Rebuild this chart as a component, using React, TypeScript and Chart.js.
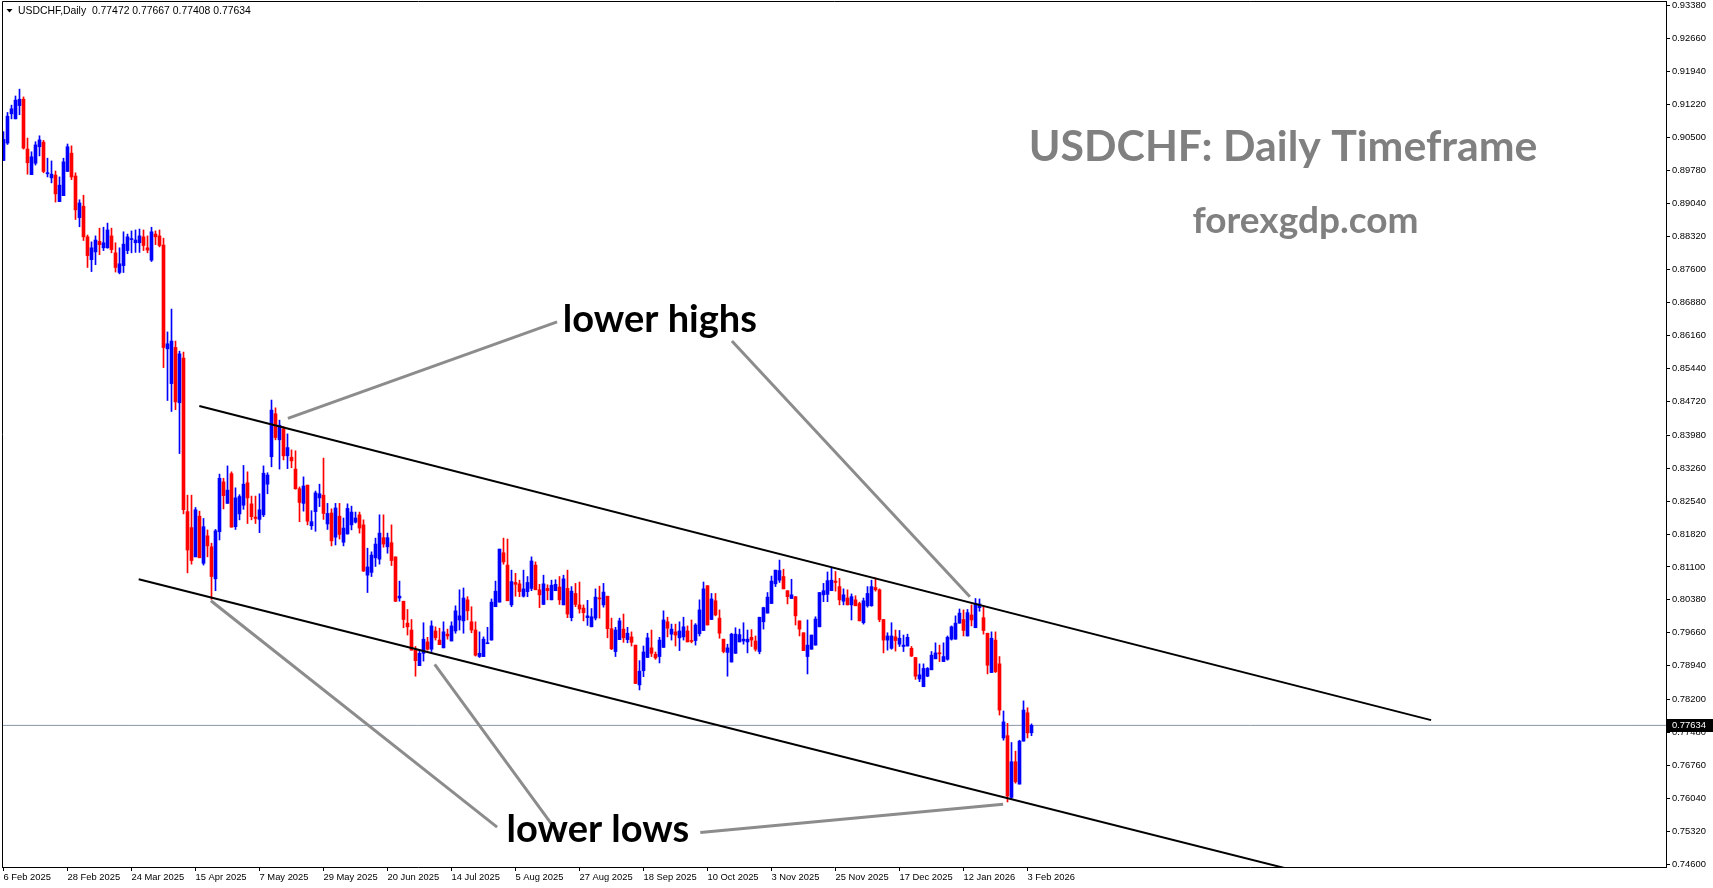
import React, { useEffect, useRef } from 'react';
import { Chart, registerables } from 'chart.js';

Chart.register(...registerables);

// ---- Data (USDCHF daily) ----
const opens = [
  0.8999, 0.9037, 0.9101, 0.9090, 0.9119, 0.9133, 0.9024, 0.8968, 0.8993, 0.9029,
  0.9039, 0.8970, 0.8961, 0.8967, 0.8909, 0.8922, 0.8975, 0.9015, 0.8965, 0.8874,
  0.8899, 0.8832, 0.8782, 0.8799, 0.8822, 0.8808, 0.8808, 0.8834, 0.8797, 0.8754,
  0.8769, 0.8802, 0.8826, 0.8819, 0.8819, 0.8832, 0.8808, 0.8781, 0.8838, 0.8834,
  0.8814, 0.8587, 0.8511, 0.8590, 0.8469, 0.8567, 0.8231, 0.8196, 0.8132, 0.8221,
  0.8118, 0.8178, 0.8154, 0.8084, 0.8187, 0.8296, 0.8249, 0.8314, 0.8198, 0.8226,
  0.8245, 0.8294, 0.8248, 0.8219, 0.8214, 0.8224, 0.8291, 0.8351, 0.8445, 0.8388,
  0.8412, 0.8353, 0.8350, 0.8324, 0.8281, 0.8249, 0.8289, 0.8200, 0.8231, 0.8261,
  0.8267, 0.8204, 0.8228, 0.8175, 0.8221, 0.8164, 0.8182, 0.8202, 0.8208, 0.8224,
  0.8202, 0.8092, 0.8098, 0.8130, 0.8127, 0.8174, 0.8154, 0.8163, 0.8132, 0.8042,
  0.8035, 0.7987, 0.7972, 0.7928, 0.7894, 0.7921, 0.7946, 0.7930, 0.7970, 0.7950,
  0.7933, 0.7963, 0.7948, 0.7970, 0.7994, 0.7992, 0.8038, 0.7990, 0.7972, 0.7914,
  0.7914, 0.7942, 0.7950, 0.8023, 0.8033, 0.8141, 0.8114, 0.8027, 0.8076, 0.8073,
  0.8046, 0.8056, 0.8063, 0.8114, 0.8060, 0.8028, 0.8063, 0.8038, 0.8058, 0.8066,
  0.8027, 0.8063, 0.7999, 0.8052, 0.8027, 0.8020, 0.7999, 0.7979, 0.7998, 0.8042,
  0.8027, 0.8046, 0.7975, 0.7925, 0.7951, 0.7974, 0.7951, 0.7957, 0.7939, 0.7852,
  0.7883, 0.7912, 0.7933, 0.7919, 0.7914, 0.7934, 0.7990, 0.7963, 0.7968, 0.7955,
  0.7957, 0.7970, 0.7949, 0.7949, 0.7964, 0.7971, 0.8069, 0.7995, 0.8036, 0.7998,
  0.7952, 0.7923, 0.7902, 0.7921, 0.7946, 0.7948, 0.7946, 0.7956, 0.7948, 0.7925,
  0.7990, 0.8009, 0.8030, 0.8073, 0.8081, 0.8089, 0.8058, 0.8041, 0.8045, 0.7992,
  0.7966, 0.7914, 0.7930, 0.7939, 0.7979, 0.8049, 0.8050, 0.8058, 0.8079, 0.8067,
  0.8035, 0.8042, 0.8027, 0.8038, 0.8030, 0.7988, 0.8025, 0.8025, 0.8065, 0.8060,
  0.7995, 0.7950, 0.7932, 0.7957, 0.7941, 0.7936, 0.7937, 0.7932, 0.7912, 0.7865,
  0.7848, 0.7871, 0.7885, 0.7909, 0.7922, 0.7903, 0.7908, 0.7952, 0.7952, 0.7987,
  0.7995, 0.7959, 0.8005, 0.7977, 0.8021, 0.7999, 0.7965, 0.7879, 0.7950, 0.7898,
  0.7736, 0.7741, 0.7606, 0.7684, 0.7635, 0.7729, 0.7791, 0.77472,
];
const highs = [
  0.9062, 0.9104, 0.9120, 0.9140, 0.9155, 0.9138, 0.9048, 0.9018, 0.9040, 0.9053,
  0.9043, 0.9004, 0.8998, 0.8976, 0.8963, 0.9004, 0.9035, 0.9031, 0.8972, 0.8913,
  0.8923, 0.8836, 0.8821, 0.8834, 0.8851, 0.8853, 0.8862, 0.8851, 0.8819, 0.8808,
  0.8843, 0.8838, 0.8845, 0.8847, 0.8849, 0.8847, 0.8834, 0.8853, 0.8845, 0.8847,
  0.8829, 0.8624, 0.8674, 0.8604, 0.8582, 0.8580, 0.8267, 0.8267, 0.8240, 0.8232,
  0.8216, 0.8191, 0.8162, 0.8192, 0.8313, 0.8304, 0.8331, 0.8318, 0.8283, 0.8268,
  0.8332, 0.8318, 0.8265, 0.8265, 0.8270, 0.8331, 0.8316, 0.8475, 0.8458, 0.8431,
  0.8417, 0.8401, 0.8366, 0.8364, 0.8285, 0.8307, 0.8289, 0.8233, 0.8276, 0.8291,
  0.8348, 0.8249, 0.8237, 0.8249, 0.8249, 0.8217, 0.8248, 0.8243, 0.8230, 0.8230,
  0.8213, 0.8151, 0.8143, 0.8173, 0.8224, 0.8224, 0.8184, 0.8202, 0.8132, 0.8079,
  0.8035, 0.8017, 0.7995, 0.7936, 0.7928, 0.7988, 0.7956, 0.7992, 0.7979, 0.7976,
  0.7990, 0.7974, 0.7990, 0.8025, 0.8060, 0.8064, 0.8045, 0.8023, 0.7990, 0.7968,
  0.7957, 0.7978, 0.8040, 0.8079, 0.8149, 0.8173, 0.8171, 0.8103, 0.8096, 0.8081,
  0.8103, 0.8089, 0.8132, 0.8121, 0.8072, 0.8092, 0.8071, 0.8081, 0.8082, 0.8089,
  0.8092, 0.8103, 0.8067, 0.8074, 0.8077, 0.8027, 0.8037, 0.8019, 0.8062, 0.8068,
  0.8074, 0.8046, 0.7998, 0.7978, 0.7998, 0.8007, 0.7978, 0.7968, 0.7939, 0.7905,
  0.7937, 0.7965, 0.7972, 0.7924, 0.7956, 0.8014, 0.8000, 0.7985, 0.7985, 0.7990,
  0.8000, 0.7981, 0.7994, 0.7986, 0.8038, 0.8077, 0.8069, 0.8052, 0.8052, 0.8016,
  0.7952, 0.7941, 0.7965, 0.7977, 0.7974, 0.7988, 0.7972, 0.7973, 0.7959, 0.8000,
  0.8022, 0.8054, 0.8090, 0.8103, 0.8125, 0.8105, 0.8058, 0.8083, 0.8045, 0.7992,
  0.7966, 0.7994, 0.7961, 0.8001, 0.8054, 0.8074, 0.8099, 0.8107, 0.8100, 0.8085,
  0.8062, 0.8060, 0.8051, 0.8047, 0.8033, 0.8042, 0.8067, 0.8081, 0.8086, 0.8062,
  0.7995, 0.7966, 0.7988, 0.7972, 0.7971, 0.7961, 0.7963, 0.7936, 0.7912, 0.7898,
  0.7898, 0.7890, 0.7925, 0.7944, 0.7939, 0.7944, 0.7959, 0.7981, 0.8003, 0.8018,
  0.8016, 0.8017, 0.8027, 0.8041, 0.8040, 0.8023, 0.7965, 0.7968, 0.7968, 0.7914,
  0.7795, 0.7768, 0.7726, 0.7707, 0.7731, 0.7817, 0.7802, 0.77667,
];
const lows = [
  0.8999, 0.9034, 0.9090, 0.9090, 0.9099, 0.9024, 0.8969, 0.8968, 0.8989, 0.9009,
  0.8972, 0.8963, 0.8950, 0.8908, 0.8909, 0.8922, 0.8975, 0.8957, 0.8870, 0.8854,
  0.8824, 0.8765, 0.8756, 0.8771, 0.8793, 0.8802, 0.8807, 0.8797, 0.8755, 0.8751,
  0.8754, 0.8795, 0.8797, 0.8798, 0.8798, 0.8802, 0.8797, 0.8778, 0.8815, 0.8810,
  0.8546, 0.8474, 0.8450, 0.8454, 0.8358, 0.8226, 0.8097, 0.8116, 0.8132, 0.8130,
  0.8114, 0.8132, 0.8039, 0.8058, 0.8169, 0.8237, 0.8249, 0.8197, 0.8192, 0.8213,
  0.8236, 0.8205, 0.8213, 0.8205, 0.8185, 0.8220, 0.8270, 0.8329, 0.8388, 0.8324,
  0.8344, 0.8325, 0.8327, 0.8280, 0.8209, 0.8232, 0.8202, 0.8192, 0.8188, 0.8242,
  0.8214, 0.8192, 0.8156, 0.8158, 0.8171, 0.8156, 0.8182, 0.8191, 0.8206, 0.8184,
  0.8100, 0.8054, 0.8089, 0.8111, 0.8116, 0.8153, 0.8140, 0.8113, 0.8034, 0.8035,
  0.7977, 0.7961, 0.7928, 0.7871, 0.7894, 0.7904, 0.7928, 0.7925, 0.7950, 0.7940,
  0.7933, 0.7952, 0.7948, 0.7965, 0.7972, 0.7965, 0.7994, 0.7966, 0.7915, 0.7912,
  0.7914, 0.7942, 0.7950, 0.8023, 0.8033, 0.8116, 0.8036, 0.8023, 0.8046, 0.8045,
  0.8044, 0.8045, 0.8058, 0.8060, 0.8021, 0.8028, 0.8038, 0.8038, 0.8058, 0.8028,
  0.8027, 0.7999, 0.7992, 0.8023, 0.8009, 0.7992, 0.7982, 0.7979, 0.7994, 0.7998,
  0.8022, 0.7955, 0.7929, 0.7914, 0.7951, 0.7945, 0.7944, 0.7937, 0.7855, 0.7841,
  0.7870, 0.7912, 0.7914, 0.7908, 0.7900, 0.7934, 0.7957, 0.7950, 0.7937, 0.7927,
  0.7950, 0.7946, 0.7944, 0.7939, 0.7959, 0.7971, 0.7983, 0.7995, 0.8003, 0.7954,
  0.7922, 0.7871, 0.7902, 0.7921, 0.7946, 0.7941, 0.7922, 0.7936, 0.7926, 0.7920,
  0.7974, 0.8009, 0.8030, 0.8067, 0.8076, 0.8062, 0.8029, 0.8041, 0.7983, 0.7959,
  0.7927, 0.7876, 0.7930, 0.7939, 0.7979, 0.8034, 0.8034, 0.8058, 0.8057, 0.8027,
  0.8027, 0.8027, 0.7994, 0.8025, 0.7992, 0.7985, 0.8022, 0.8024, 0.8057, 0.7990,
  0.7922, 0.7928, 0.7930, 0.7926, 0.7936, 0.7925, 0.7937, 0.7914, 0.7864, 0.7859,
  0.7848, 0.7870, 0.7885, 0.7909, 0.7903, 0.7903, 0.7906, 0.7950, 0.7952, 0.7987,
  0.7959, 0.7959, 0.7981, 0.7977, 0.8013, 0.7963, 0.7876, 0.7879, 0.7879, 0.7786,
  0.7731, 0.7596, 0.7602, 0.7637, 0.7635, 0.7729, 0.7736, 0.77408,
];
const closes = [
  0.9045, 0.9096, 0.9112, 0.9131, 0.9133, 0.9026, 0.8994, 0.9007, 0.9033, 0.9044,
  0.8975, 0.8972, 0.8969, 0.8926, 0.8945, 0.8996, 0.9029, 0.8963, 0.8891, 0.8906,
  0.8832, 0.8791, 0.8808, 0.8825, 0.8815, 0.8819, 0.8847, 0.8804, 0.8765, 0.8773,
  0.8816, 0.8832, 0.8827, 0.8825, 0.8834, 0.8813, 0.8803, 0.8843, 0.8832, 0.8813,
  0.8590, 0.8598, 0.8604, 0.8471, 0.8576, 0.8235, 0.8147, 0.8124, 0.8235, 0.8130,
  0.8198, 0.8156, 0.8089, 0.8189, 0.8304, 0.8266, 0.8278, 0.8197, 0.8261, 0.8264,
  0.8291, 0.8261, 0.8220, 0.8216, 0.8235, 0.8315, 0.8311, 0.8453, 0.8393, 0.8420,
  0.8353, 0.8371, 0.8342, 0.8281, 0.8251, 0.8287, 0.8210, 0.8209, 0.8272, 0.8270,
  0.8227, 0.8227, 0.8167, 0.8239, 0.8181, 0.8195, 0.8238, 0.8230, 0.8217, 0.8195,
  0.8101, 0.8110, 0.8136, 0.8160, 0.8184, 0.8160, 0.8174, 0.8124, 0.8035, 0.8046,
  0.7995, 0.7979, 0.7928, 0.7905, 0.7921, 0.7952, 0.7930, 0.7981, 0.7955, 0.7940,
  0.7968, 0.7959, 0.7981, 0.8014, 0.8003, 0.8042, 0.8014, 0.7972, 0.7917, 0.7921,
  0.7952, 0.7944, 0.8033, 0.8057, 0.8149, 0.8121, 0.8036, 0.8078, 0.8072, 0.8056,
  0.8062, 0.8076, 0.8123, 0.8060, 0.8049, 0.8073, 0.8058, 0.8070, 0.8072, 0.8038,
  0.8084, 0.8007, 0.8057, 0.8028, 0.8018, 0.8010, 0.8003, 0.8001, 0.8044, 0.8040,
  0.8055, 0.7975, 0.7931, 0.7972, 0.7992, 0.7955, 0.7965, 0.7945, 0.7855, 0.7882,
  0.7924, 0.7955, 0.7921, 0.7911, 0.7950, 0.7994, 0.7976, 0.7974, 0.7961, 0.7970,
  0.7979, 0.7946, 0.7947, 0.7983, 0.8016, 0.8062, 0.7983, 0.8040, 0.8005, 0.7965,
  0.7925, 0.7933, 0.7963, 0.7963, 0.7962, 0.7952, 0.7952, 0.7950, 0.7930, 0.8000,
  0.8021, 0.8044, 0.8079, 0.8103, 0.8102, 0.8062, 0.8045, 0.8049, 0.8003, 0.7974,
  0.7927, 0.7939, 0.7961, 0.7996, 0.8054, 0.8058, 0.8080, 0.8081, 0.8076, 0.8038,
  0.8049, 0.8027, 0.8045, 0.8025, 0.7992, 0.8036, 0.8052, 0.8067, 0.8060, 0.7995,
  0.7950, 0.7959, 0.7959, 0.7949, 0.7954, 0.7939, 0.7956, 0.7915, 0.7871, 0.7874,
  0.7888, 0.7888, 0.7917, 0.7922, 0.7920, 0.7914, 0.7956, 0.7979, 0.7987, 0.8009,
  0.7971, 0.8010, 0.7994, 0.8030, 0.8029, 0.7971, 0.7895, 0.7954, 0.7881, 0.7797,
  0.7771, 0.7609, 0.7684, 0.7640, 0.7729, 0.7797, 0.7747, 0.77634,
];

const dateTickIdx = [0, 16, 32, 48, 64, 80, 96, 112, 128, 144, 160, 176, 192, 208, 224, 240, 256];
const dateLabels = [
  '6 Feb 2025', '28 Feb 2025', '24 Mar 2025', '15 Apr 2025', '7 May 2025', '29 May 2025',
  '20 Jun 2025', '14 Jul 2025', '5 Aug 2025', '27 Aug 2025', '18 Sep 2025', '10 Oct 2025',
  '3 Nov 2025', '25 Nov 2025', '17 Dec 2025', '12 Jan 2026', '3 Feb 2026',
];
const priceLabels = [
  '0.93380', '0.92660', '0.91940', '0.91220', '0.90500', '0.89780', '0.89040', '0.88320',
  '0.87600', '0.86880', '0.86160', '0.85440', '0.84720', '0.83980', '0.83260', '0.82540',
  '0.81820', '0.81100', '0.80380', '0.79660', '0.78940', '0.78200', '0.77480', '0.76760',
  '0.76040', '0.75320', '0.74600',
];

const headerText = 'USDCHF,Daily  0.77472 0.77667 0.77408 0.77634';
const currentPrice = 0.77634;

// trend lines (candle index, price)
const upperChannel = [{ x: 48.95, y: 0.8462 }, { x: 356.9, y: 0.7775 }];
const lowerChannel = [{ x: 33.8, y: 0.8083 }, { x: 324.1, y: 0.7443 }];
const pointerHighsA = [{ x: 71.1, y: 0.8435 }, { x: 138.4, y: 0.8646 }];
const pointerHighsB = [{ x: 182.1, y: 0.8604 }, { x: 241.6, y: 0.8045 }];
const pointerLowsA = [{ x: 51.85, y: 0.8036 }, { x: 123.4, y: 0.7541 }];
const pointerLowsB = [{ x: 107.8, y: 0.7897 }, { x: 139.0, y: 0.7524 }];
const pointerLowsC = [{ x: 174.2, y: 0.7529 }, { x: 249.9, y: 0.7591 }];

const textNotes = [
  { text: 'USDCHF: Daily Timeframe', x: 319.9, y: 0.9027, size: 42.8, color: '#808080' },
  { text: 'forexgdp.com', x: 325.5, y: 0.8867, size: 37, color: '#808080' },
  { text: 'lower highs', x: 164.1, y: 0.8650, size: 38, color: '#000000' },
  { text: 'lower lows', x: 148.6, y: 0.7535, size: 38, color: '#000000' },
];

const BULL = '#0000ff';
const BEAR = '#ff0000';
const AXIS_FONT = { family: '"Liberation Sans", Arial, sans-serif', size: 9.4 };

export default function App() {
  const ref = useRef<HTMLCanvasElement | null>(null);

  useEffect(() => {
    const canvas = ref.current;
    if (!canvas) return;
    const colors = closes.map((c, i) => (c >= opens[i] ? BULL : BEAR));
    const wickData = opens.map((_, i) => ({ x: i, y: [lows[i], highs[i]] }));
    const bodyData = opens.map((o, i) => ({ x: i, y: [o, closes[i]] }));

    const lineDs = (data: any[], color: string, width: number) => ({
      type: 'line' as const,
      data,
      borderColor: color,
      borderWidth: width,
      pointRadius: 0,
      tension: 0,
      fill: false,
      order: 0,
    });

    const overlay = {
      id: 'mt4Overlay',
      afterDatasetsDraw(chart: any) {
        const { ctx, chartArea, scales } = chart;
        const xs = scales.x;
        const ys = scales.y;
        ctx.save();
        // frame (left + top)
        ctx.strokeStyle = '#000';
        ctx.lineWidth = 1;
        ctx.beginPath();
        ctx.moveTo(chartArea.left + 0.5, chartArea.bottom);
        ctx.lineTo(chartArea.left + 0.5, chartArea.top + 0.5);
        ctx.lineTo(chartArea.right, chartArea.top + 0.5);
        ctx.stroke();

        // annotation texts
        ctx.textAlign = 'center';
        ctx.textBaseline = 'middle';
        for (const n of textNotes) {
          ctx.font = `bold ${n.size}px Lato, "Open Sans", sans-serif`;
          ctx.fillStyle = n.color;
          ctx.fillText(n.text, xs.getPixelForValue(n.x), ys.getPixelForValue(n.y));
        }

        // header
        ctx.fillStyle = '#000';
        ctx.beginPath();
        ctx.moveTo(6.5, 9);
        ctx.lineTo(12.5, 9);
        ctx.lineTo(9.5, 12.5);
        ctx.closePath();
        ctx.fill();
        ctx.font = '10.4px "Liberation Sans", Arial, sans-serif';
        ctx.textAlign = 'left';
        ctx.textBaseline = 'middle';
        ctx.fillText(headerText, 18, 11);

        // current price box
        const py = Math.round(ys.getPixelForValue(currentPrice));
        ctx.fillStyle = '#000';
        ctx.fillRect(chartArea.right + 1, py - 6, 46, 13);
        ctx.fillStyle = '#fff';
        ctx.font = `${AXIS_FONT.size}px ${AXIS_FONT.family}`;
        ctx.fillText(currentPrice.toFixed(5), chartArea.right + 6, py + 0.5);
        ctx.restore();
      },
    };

    const chart = new Chart(canvas, {
      type: 'bar',
      data: {
        datasets: [
          lineDs(upperChannel, '#000000', 2),
          lineDs(lowerChannel, '#000000', 2),
          lineDs(pointerHighsA, '#8c8c8c', 3),
          lineDs(pointerHighsB, '#8c8c8c', 3),
          lineDs(pointerLowsA, '#8c8c8c', 3),
          lineDs(pointerLowsB, '#8c8c8c', 3),
          lineDs(pointerLowsC, '#8c8c8c', 3),
          {
            type: 'bar',
            data: bodyData as any,
            backgroundColor: colors,
            barThickness: 3,
            grouped: false,
            minBarLength: 1,
            order: 2,
          } as any,
          {
            type: 'bar',
            data: wickData as any,
            backgroundColor: colors,
            barThickness: 1,
            grouped: false,
            minBarLength: 1,
            order: 3,
          } as any,
          {
            type: 'line',
            data: [{ x: -5, y: currentPrice }, { x: 420, y: currentPrice }],
            borderColor: '#8a96a6',
            borderWidth: 1,
            pointRadius: 0,
            order: 5,
          } as any,
        ],
      },
      options: {
        responsive: false,
        animation: false,
        events: [],
        layout: { padding: { left: 2, top: 1, right: 0, bottom: 0 } },
        plugins: {
          legend: { display: false },
          tooltip: { enabled: false },
        },
        scales: {
          x: {
            type: 'linear',
            position: 'bottom',
            min: -0.375,
            max: 415.625,
            offset: false,
            grid: { display: true, drawOnChartArea: false, drawTicks: true, tickLength: 4, color: '#000', offset: false },
            border: { display: true, color: '#000', width: 1 },
            ticks: {
              autoSkip: false,
              maxRotation: 0,
              minRotation: 0,
              align: 'start',
              padding: 1,
              color: '#000',
              font: AXIS_FONT,
              callback: (_v: any, i: number) => dateLabels[i],
            },
            afterBuildTicks: (s: any) => {
              s.ticks = dateTickIdx.map((v) => ({ value: v }));
            },
            afterFit: (s: any) => {
              s.height = 21;
              s.paddingLeft = 0;
              s.paddingRight = 0;
              s.paddingTop = 0;
              s.paddingBottom = 0;
            },
          },
          y: {
            type: 'linear',
            position: 'right',
            min: 0.74537,
            max: 0.93478,
            grid: { display: true, drawOnChartArea: false, drawTicks: true, tickLength: 4, color: '#000' },
            border: { display: true, color: '#000', width: 1 },
            ticks: {
              autoSkip: false,
              padding: 2,
              color: '#000',
              font: AXIS_FONT,
              callback: (_v: any, i: number) => priceLabels[i],
            },
            afterBuildTicks: (s: any) => {
              s.ticks = priceLabels.map((l) => ({ value: parseFloat(l) }));
            },
            afterFit: (s: any) => {
              s.width = 47;
              s.paddingLeft = 0;
              s.paddingRight = 0;
              s.paddingTop = 0;
              s.paddingBottom = 0;
            },
          },
        },
      } as any,
      plugins: [overlay],
    });
    return () => chart.destroy();
  }, []);

  return (
    <div style={{ position: 'fixed', left: 0, top: 0, width: 1713, height: 888, background: '#fff' }}>
      <canvas ref={ref} width={1713} height={888} style={{ display: 'block' }} />
    </div>
  );
}
